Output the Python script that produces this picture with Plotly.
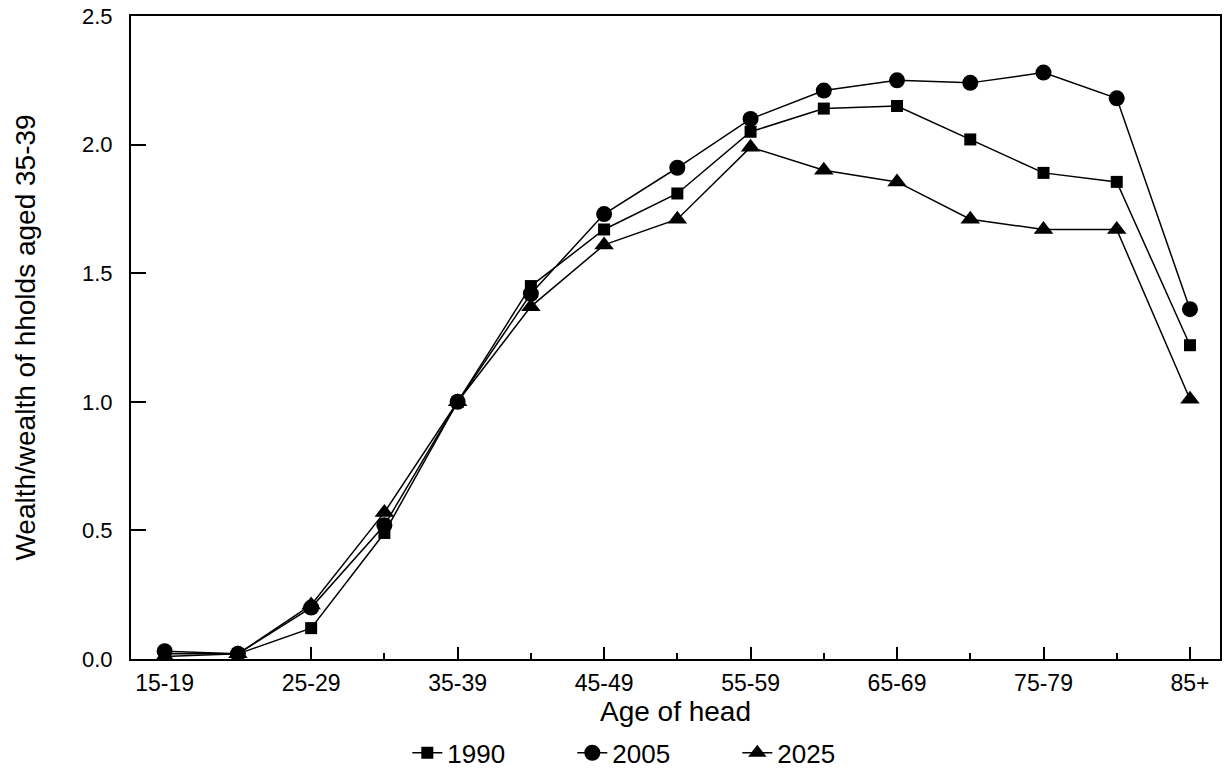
import plotly.graph_objects as go

ages = ["15-19", "20-24", "25-29", "30-34", "35-39", "40-44", "45-49", "50-54",
        "55-59", "60-64", "65-69", "70-74", "75-79", "80-84", "85+"]
w1990 = [0.02, 0.02, 0.12, 0.49, 1.00, 1.45, 1.67, 1.81, 2.05, 2.14, 2.15, 2.02, 1.89, 1.855, 1.22]
w2005 = [0.03, 0.02, 0.20, 0.52, 1.00, 1.42, 1.73, 1.91, 2.10, 2.21, 2.25, 2.24, 2.28, 2.18, 1.36]
w2025 = [0.01, 0.02, 0.21, 0.57, 1.00, 1.37, 1.61, 1.71, 1.99, 1.90, 1.855, 1.71, 1.67, 1.67, 1.01]

series = [("1990", w1990, "square", 12), ("2005", w2005, "circle", 16), ("2025", w2025, "triangle-up", 17)]

xi = list(range(len(ages)))
fig = go.Figure()
for name, vals, sym, sz in series:
    fig.add_trace(go.Scatter(x=xi, y=vals, name=name, mode="lines+markers",
                             line=dict(color="black", width=1.5),
                             marker=dict(symbol=sym, size=sz, color="black")))

font = "Liberation Sans, Arial, Helvetica, sans-serif"
fig.update_layout(
    width=1226, height=782,
    margin=dict(l=131, r=4, t=15, b=123),
    paper_bgcolor="white", plot_bgcolor="white",
    font=dict(family=font, color="black", size=22),
    showlegend=True,
    legend=dict(orientation="h", x=0.481, xanchor="center", y=-0.146, yanchor="middle",
                font=dict(size=26), bgcolor="rgba(0,0,0,0)", entrywidth=120),
    xaxis=dict(range=[-0.46, 14.41], tickmode="array",
               tickvals=xi[::2], ticktext=ages[::2],
               ticks="inside", ticklen=12, tickwidth=1.5, tickcolor="black",
               minor=dict(ticks="inside", ticklen=6, tickwidth=1.5, tickcolor="black", dtick=1, tick0=0),
               showline=True, linecolor="black", linewidth=2, mirror=True,
               showgrid=False, zeroline=False,
               tickfont=dict(size=23), ticklabelstandoff=2,
               title=dict(text="Age of head", font=dict(size=28), standoff=0)),
    yaxis=dict(range=[0, 2.5], dtick=0.5, tickformat=".1f",
               ticks="inside", ticklen=15, tickwidth=1.5, tickcolor="black",
               showline=True, linecolor="black", linewidth=2, mirror=True,
               showgrid=False, zeroline=False,
               tickfont=dict(size=22), ticklabelstandoff=12,
               title=dict(text="Wealth/wealth of hholds aged 35-39", font=dict(size=28), standoff=38)),
)
fig.write_html("out.html")
